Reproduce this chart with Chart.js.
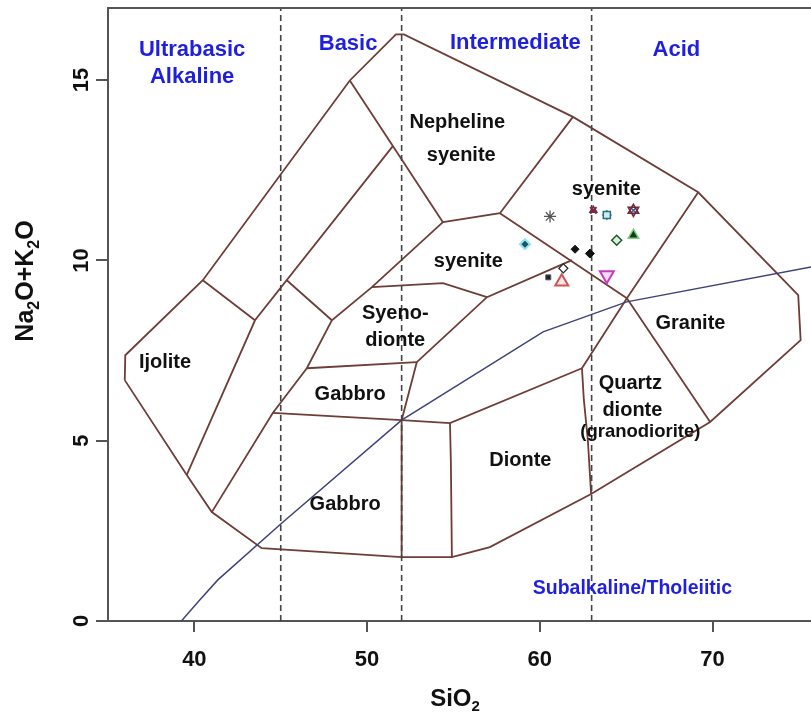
<!DOCTYPE html>
<html>
<head>
<meta charset="utf-8">
<title>TAS plutonic diagram</title>
<script src="https://cdn.jsdelivr.net/npm/chart.js@4.4.1/dist/chart.umd.min.js"></script>
<style>
  html, body { margin: 0; padding: 0; background: #fff; overflow: hidden; }
  canvas { display: block; }
</style>
</head>
<body>
<canvas id="tas" width="811" height="725"></canvas>
<script>
const xTicks = [40, 50, 60, 70];
const yTicks = [0, 5, 10, 15];

// field boundaries, [SiO2, Na2O+K2O]
const outerBoundary = [
  [35.97, 6.68], [36.0, 7.37], [40.49, 9.45], [49.0, 14.99], [51.67, 16.27], [52.13, 16.27],
  [61.92, 13.98], [69.17, 11.89], [74.96, 9.04], [75.1, 7.79], [69.86, 5.52], [62.97, 3.52],
  [57.11, 2.05], [54.91, 1.77], [52.0, 1.77], [43.9, 2.02], [41.01, 3.02], [39.56, 4.05], [35.97, 6.68]
];
const innerBoundaries = [
  [[40.49, 9.45], [43.51, 8.34]],
  [[39.56, 4.05], [43.51, 8.34], [51.49, 13.17]],
  [[49.0, 14.99], [54.39, 11.06]],
  [[45.35, 9.45], [47.96, 8.34]],
  [[41.01, 3.02], [44.54, 5.77], [46.51, 7.01], [47.96, 8.34], [50.28, 9.26], [54.39, 11.06]],
  [[46.51, 7.01], [52.88, 7.18]],
  [[44.54, 5.77], [52.0, 5.57], [54.8, 5.49], [62.44, 7.01]],
  [[52.88, 7.18], [52.0, 5.57], [52.0, 1.77]],
  [[54.8, 5.49], [54.85, 4.4], [54.91, 1.77]],
  [[52.88, 7.18], [56.94, 8.98], [61.86, 10.01]],
  [[50.28, 9.26], [54.39, 9.37], [56.94, 8.98]],
  [[54.39, 11.06], [57.69, 11.31], [61.92, 13.98]],
  [[57.69, 11.31], [65.04, 8.95], [69.17, 11.89]],
  [[65.04, 8.95], [69.86, 5.52]],
  [[65.04, 8.95], [62.44, 7.01], [62.55, 6.13], [62.78, 5.02], [62.97, 3.52]]
];

// silica class dividers
const dividerSiO2 = [45, 52, 63];

// alkaline / subalkaline divide
const divideSiO2 = [39.25, 40.31, 41.36, 45.0, 52.0, 60.19, 65.03, 75.7];
const divideAlk = [0, 0.58, 1.14, 2.69, 5.57, 8.02, 8.85, 9.82];

// samples
const sampleSiO2 = [60.59, 63.10, 63.88, 65.42, 59.14, 62.04, 62.90, 64.45, 65.42, 61.36, 60.49, 61.27, 63.88];
const sampleAlk = [11.22, 11.39, 11.26, 11.39, 10.45, 10.31, 10.19, 10.56, 10.70, 9.78, 9.53, 9.41, 9.59];

const zoneNames = ['Ultrabasic', 'Alkaline', 'Basic', 'Intermediate', 'Acid', 'Subalkaline/Tholeiitic'];
const zoneX = [39.87, 39.87, 48.9, 58.58, 67.91, 65.36];
const zoneY = [15.83, 15.08, 16.0, 16.02, 15.83, 0.91];

const fieldNames = ['Nepheline', 'syenite', 'syenite', 'syenite', 'Syeno-', 'dionte', 'Gabbro', 'Gabbro',
  'Ijolite', 'Dionte', 'Granite', 'Quartz', 'dionte', '(granodiorite)'];
const fieldX = [55.22, 55.45, 63.85, 55.86, 51.63, 51.63, 49.02, 48.73, 38.3, 58.87, 68.72, 65.24, 65.36, 65.82];
const fieldY = [13.83, 12.92, 11.98, 9.98, 8.54, 7.79, 6.29, 3.22, 7.18, 4.46, 8.26, 6.6, 5.85, 5.24];

const FONT = "'Liberation Sans', Arial, sans-serif";
const fieldColor = '#6e3d36';
const axisColor = '#555';

const markers = [
  [{ s: 'star', r: 6, bg: '#555', fg: '#555', w: 1.3 }],
  [{ s: 'crossRot', r: 4.5, bg: '#7a2740', fg: '#7a2740', w: 2 }, { s: 'triangle', r: 4, bg: 'rgba(0,0,0,0)', fg: '#7a2740', w: 1.5 }],
  [{ s: 'rect', r: 5, bg: '#c8eef5', fg: '#2f6d7c', w: 1.5 }, { s: 'cross', r: 5, bg: '#2f6d7c', fg: '#2f6d7c', w: 1.2 }],
  [{ s: 'triangle', r: 6, bg: 'rgba(0,0,0,0)', fg: '#6e2a36', w: 1.6 }, { s: 'triangle', r: 6, rot: 180, bg: 'rgba(0,0,0,0)', fg: '#6e2a36', w: 1.6 }, { s: 'crossRot', r: 3, bg: '#3b5b9a', fg: '#3b5b9a', w: 1.5 }],
  [{ s: 'rectRot', r: 5, bg: '#1d5360', fg: '#8fe6f3', w: 2 }],
  [{ s: 'rectRot', r: 4, bg: '#111', fg: '#111', w: 1 }],
  [{ s: 'rectRot', r: 4.5, bg: '#111', fg: '#111', w: 1 }],
  [{ s: 'rectRot', r: 5, bg: '#d9f0d9', fg: '#1f5a22', w: 1.5 }, { s: 'cross', r: 4, bg: '#1f5a22', fg: '#1f5a22', w: 1.2 }],
  [{ s: 'triangle', r: 6, bg: '#143d16', fg: '#7ccf7c', w: 1.5 }],
  [{ s: 'rectRot', r: 4.5, bg: '#fff', fg: '#222', w: 1.3 }],
  [{ s: 'rect', r: 3.5, bg: '#222', fg: '#555', w: 1 }],
  [{ s: 'triangle', r: 7.5, bg: '#fde6e4', fg: '#cc5555', w: 2 }],
  [{ s: 'triangle', r: 8, rot: 180, bg: '#f6dcf6', fg: '#c23cc2', w: 2 }]
];

const toPts = arr => arr.map(p => ({ x: p[0], y: p[1] }));
const lineBase = { type: 'scatter', showLine: true, pointRadius: 0, tension: 0, fill: false, order: 2 };

const datasets = [];
sampleSiO2.forEach((sx, i) => {
  markers[i].forEach(m => {
    datasets.push({
      type: 'scatter',
      data: [{ x: sx, y: sampleAlk[i] }],
      pointStyle: m.s,
      pointRadius: m.r,
      pointRotation: m.rot || 0,
      pointBackgroundColor: m.bg,
      pointBorderColor: m.fg,
      pointBorderWidth: m.w,
      order: 0
    });
  });
});
datasets.push({ ...lineBase, data: toPts(outerBoundary), borderColor: fieldColor, borderWidth: 1.8 });
innerBoundaries.forEach(seg => {
  datasets.push({ ...lineBase, data: toPts(seg), borderColor: fieldColor, borderWidth: 1.8 });
});
dividerSiO2.forEach(v => {
  datasets.push({ ...lineBase, data: [{ x: v, y: 0 }, { x: v, y: 17 }], borderColor: '#444', borderWidth: 1.6, borderDash: [6, 4], order: 1 });
});
datasets.push({ ...lineBase, data: divideSiO2.map((v, i) => ({ x: v, y: divideAlk[i] })), borderColor: '#3e4479', borderWidth: 1.5, order: 1 });

// text with subscript digits, centred on 0
function subText(ctx, parts, size, subSize) {
  let w = 0;
  parts.forEach(p => {
    ctx.font = 'bold ' + (p.sub ? subSize : size) + 'px ' + FONT;
    w += ctx.measureText(p.t).width;
  });
  let x = -w / 2;
  ctx.textAlign = 'left';
  ctx.textBaseline = 'alphabetic';
  parts.forEach(p => {
    ctx.font = 'bold ' + (p.sub ? subSize : size) + 'px ' + FONT;
    ctx.fillText(p.t, x, p.sub ? size * 0.22 : 0);
    x += ctx.measureText(p.t).width;
  });
}

const textPlugin = {
  id: 'fieldText',
  afterDatasetsDraw(chart) {
    const { ctx, scales: { x, y } } = chart;
    ctx.save();
    ctx.textAlign = 'center';
    ctx.textBaseline = 'middle';
    zoneNames.forEach((t, i) => {
      ctx.font = 'bold ' + (i === 5 ? 19.5 : 22) + 'px ' + FONT;
      ctx.fillStyle = '#1f1fe0';
      ctx.fillText(t, x.getPixelForValue(zoneX[i]), y.getPixelForValue(zoneY[i]));
    });
    fieldNames.forEach((t, i) => {
      ctx.font = 'bold ' + (i === 13 ? 18.5 : 20) + 'px ' + FONT;
      ctx.fillStyle = '#111';
      ctx.fillText(t, x.getPixelForValue(fieldX[i]), y.getPixelForValue(fieldY[i]));
    });
    ctx.restore();
  },
  afterDraw(chart) {
    const { ctx, chartArea: a } = chart;
    ctx.save();
    ctx.strokeStyle = axisColor;
    ctx.lineWidth = 2;
    ctx.beginPath();
    ctx.moveTo(a.left - 1, a.top);
    ctx.lineTo(a.right, a.top);
    ctx.stroke();

    ctx.fillStyle = '#111';
    ctx.save();
    ctx.translate(455, 706);
    subText(ctx, [{ t: 'SiO' }, { t: '2', sub: true }], 24, 15);
    ctx.restore();

    ctx.save();
    ctx.translate(33, 281);
    ctx.rotate(-Math.PI / 2);
    subText(ctx, [{ t: 'Na' }, { t: '2', sub: true }, { t: 'O+K' }, { t: '2', sub: true }, { t: 'O' }], 25, 16);
    ctx.restore();
    ctx.restore();
  }
};

new Chart(document.getElementById('tas'), {
  type: 'scatter',
  data: { datasets },
  options: {
    responsive: false,
    animation: false,
    layout: { autoPadding: false, padding: { top: 8, right: 0, bottom: 0, left: 0 } },
    plugins: { legend: { display: false }, tooltip: { enabled: false } },
    scales: {
      x: {
        type: 'linear',
        min: 35,
        max: 75.7,
        afterBuildTicks: s => { s.ticks = xTicks.map(v => ({ value: v })); },
        afterFit: s => { s.height = 104; s.paddingLeft = 0; s.paddingRight = 0; },
        border: { color: axisColor, width: 2 },
        grid: { drawOnChartArea: false, tickLength: 11, color: axisColor, lineWidth: 2 },
        ticks: { padding: 15, color: '#111', font: { family: FONT, weight: 'bold', size: 22 } }
      },
      y: {
        type: 'linear',
        min: 0,
        max: 17,
        afterBuildTicks: s => { s.ticks = yTicks.map(v => ({ value: v })); },
        afterFit: s => { s.width = 108; s.paddingTop = 0; s.paddingBottom = 0; },
        border: { color: axisColor, width: 2 },
        grid: { drawOnChartArea: false, tickLength: 12, color: axisColor, lineWidth: 2 },
        ticks: { minRotation: 90, maxRotation: 90, crossAlign: 'center', padding: 2, color: '#111', font: { family: FONT, weight: 'bold', size: 22 } }
      }
    }
  },
  plugins: [textPlugin]
});
</script>
</body>
</html>
